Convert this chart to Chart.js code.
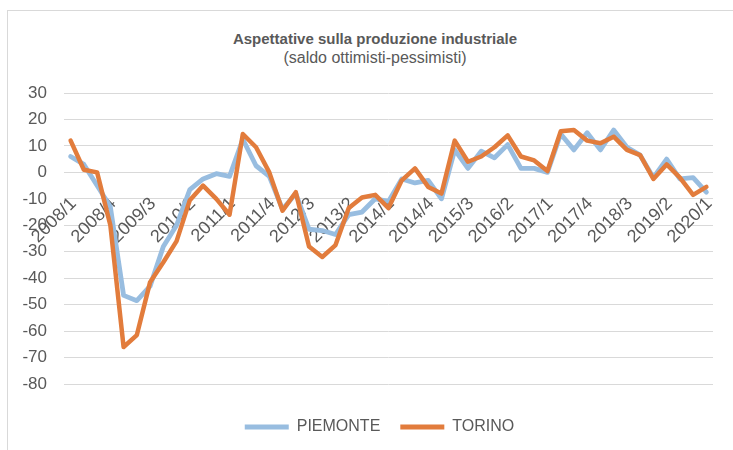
<!DOCTYPE html>
<html lang="it">
<head>
<meta charset="utf-8">
<title>Aspettative sulla produzione industriale</title>
<script src="https://cdn.jsdelivr.net/npm/chart.js@4.4.1/dist/chart.umd.min.js"></script>
<style>
  html, body { margin: 0; padding: 0; background: #fff; overflow: hidden; }
  #frame { position: absolute; left: 7px; top: 10px; width: 760px; height: 480px; border: 1px solid #d9d9d9; }
  #wrap { position: absolute; left: 0; top: 0; width: 733px; height: 450px; }
  .hd { position: absolute; left: 0; width: 750px; text-align: center; color: #595959;
        font-family: 'Liberation Sans', Arial, sans-serif; white-space: nowrap; line-height: 1; }
  #title { top: 31px; font-size: 15px; font-weight: bold; }
  #subtitle { top: 50px; font-size: 16px; }
</style>
</head>
<body>
<div id="frame"></div>
<div class="hd" id="title">Aspettative sulla produzione industriale</div>
<div class="hd" id="subtitle">(saldo ottimisti-pessimisti)</div>
<div id="wrap"><canvas id="chart" width="733" height="450"></canvas></div>
<script>
'use strict';

// trimestri 2008/1 - 2020/1
var quarters = [
    '2008/1', '2008/2', '2008/3', '2008/4', '2009/1', '2009/2', '2009/3', '2009/4',
    '2010/1', '2010/2', '2010/3', '2010/4', '2011/1', '2011/2', '2011/3', '2011/4',
    '2012/1', '2012/2', '2012/3', '2012/4', '2013/1', '2013/2', '2013/3', '2013/4',
    '2014/1', '2014/2', '2014/3', '2014/4', '2015/1', '2015/2', '2015/3', '2015/4',
    '2016/1', '2016/2', '2016/3', '2016/4', '2017/1', '2017/2', '2017/3', '2017/4',
    '2018/1', '2018/2', '2018/3', '2018/4', '2019/1', '2019/2', '2019/3', '2019/4',
    '2020/1'
];

var piemonte = [
    6, 3, -5, -13, -46.5, -48.5, -43, -28,
    -20, -6.5, -2.5, -0.5, -1.5, 12.5, 2.5, -1.5,
    -14, -8, -21.5, -22, -23.5, -16, -15, -10,
    -11, -2.5, -4, -3, -10, 8.5, 1.5, 8,
    5.5, 10.5, 1.5, 1.5, 0, 14.5, 8.5, 15,
    8.5, 16, 9.5, 6.5, -2, 5, -2.5, -2,
    -7.5
];

var torino = [
    12, 1, 0, -20, -66, -61.5, -41.5, -34,
    -26, -10.5, -5, -10, -16, 14.5, 9.5, 0,
    -14.5, -7.5, -28, -32, -27.5, -13.5, -9.5, -8.5,
    -13.5, -3, 1.5, -5.5, -8, 12, 4, 6,
    9.5, 14, 6, 4.5, 0.5, 15.5, 16, 12,
    11, 13.5, 8.5, 6.5, -2.5, 3, -2, -8.5,
    -5.5
];

var yTicks = { min: -80, max: 30, step: 10 };

var BLUE = '#98bde0';
var ORANGE = '#e27c3c';
var TEXT = '#595959';
var FONT = "'Liberation Sans', Arial, sans-serif";

// the legend sits a bit right of the canvas centre
var legendNudge = {
    id: 'legendNudge',
    afterLayout: function (chart) {
        var lg = chart.legend;
        if (!lg) return;
        lg.left += 13;
        lg.right += 13;
    }
};

var ctx = document.getElementById('chart').getContext('2d');

new Chart(ctx, {
    type: 'line',
    data: {
        labels: quarters,
        datasets: [
            {
                label: 'PIEMONTE',
                data: piemonte,
                borderColor: BLUE,
                backgroundColor: BLUE,
                borderWidth: 4.8,
                order: 1
            },
            {
                label: 'TORINO',
                data: torino,
                borderColor: ORANGE,
                backgroundColor: ORANGE,
                borderWidth: 4.5,
                order: 0   // drawn above PIEMONTE
            }
        ]
    },
    plugins: [legendNudge],
    options: {
        responsive: false,
        animation: false,
        events: [],
        layout: { padding: { left: 20, right: 20, top: 93, bottom: 5 } },
        elements: {
            line: { tension: 0, borderJoinStyle: 'round', borderCapStyle: 'round', fill: false },
            point: { radius: 0, hoverRadius: 0 }
        },
        scales: {
            x: {
                type: 'category',
                offset: true,
                position: { y: 0 },
                grid: { display: false, drawTicks: false },
                border: { display: false },
                ticks: {
                    autoSkip: false,
                    minRotation: 45,
                    maxRotation: 45,
                    padding: 21,
                    labelOffset: 3,
                    color: TEXT,
                    font: { family: FONT, size: 18 },
                    callback: function (val, index) {
                        return index % 3 === 0 ? this.getLabelForValue(val) : '';
                    }
                },
                afterFit: function (scale) {
                    // labels sit on the zero line, no room needed below the plot
                    scale.height = 0;
                    scale.paddingLeft = 0;
                    scale.paddingRight = 0;
                }
            },
            y: {
                min: yTicks.min,
                max: yTicks.max,
                grid: { color: '#d9d9d9', lineWidth: 1, drawTicks: false },
                border: { display: false },
                ticks: {
                    stepSize: yTicks.step,
                    padding: 17,
                    color: TEXT,
                    font: { family: FONT, size: 17 }
                },
                afterFit: function (scale) { scale.width = 44; }
            }
        },
        plugins: {
            title: { display: false },
            tooltip: { enabled: false },
            legend: {
                position: 'bottom',
                // empty title only adds some air between plot and legend
                title: { display: true, text: '', padding: 0, font: { size: 12.5 } },
                labels: {
                    boxWidth: 44,
                    boxHeight: 5,
                    padding: 20,
                    color: TEXT,
                    font: { family: FONT, size: 16 },
                    generateLabels: function (chart) {
                        return chart.data.datasets.map(function (ds, i) {
                            return {
                                text: ds.label,
                                fillStyle: ds.borderColor,
                                strokeStyle: ds.borderColor,
                                lineWidth: 0,
                                fontColor: TEXT,
                                hidden: false,
                                datasetIndex: i
                            };
                        });
                    }
                }
            }
        }
    }
});
</script>
</body>
</html>
